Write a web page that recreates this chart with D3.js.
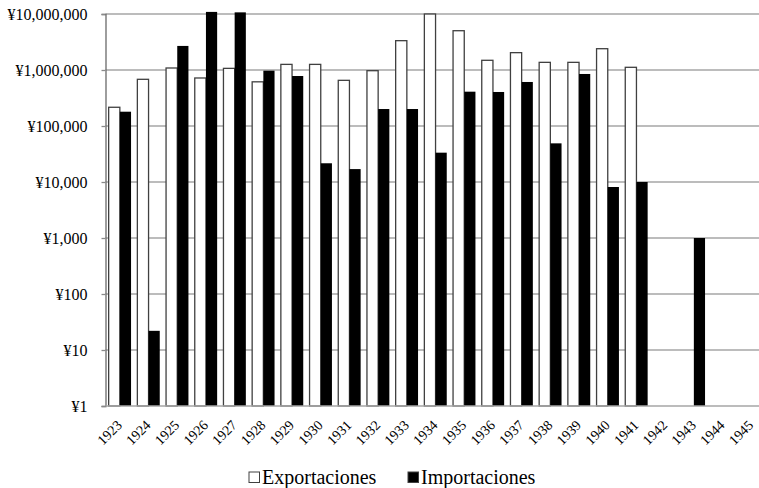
<!DOCTYPE html>
<html>
<head>
<meta charset="utf-8">
<script src="https://cdn.jsdelivr.net/npm/d3@7"></script>
<style>
  html, body { margin: 0; padding: 0; background: #fff; }
  svg { display: block; }
</style>
</head>
<body>
<svg id="chart" width="759" height="488"></svg>
<script>
const years = ["1923","1924","1925","1926","1927","1928","1929","1930","1931","1932","1933","1934","1935","1936","1937","1938","1939","1940","1941","1942","1943","1944","1945"];
const exportaciones = [216000, 682000, 1086000, 720000, 1070000, 615000, 1260000, 1260000, 654000, 972000, 3340000, 10000000, 5030000, 1490000, 2040000, 1370000, 1370000, 2400000, 1117000, null, null, null, null];
const importaciones = [180000, 22, 2690000, 10900000, 10700000, 972000, 781000, 21600, 17000, 201000, 201000, 33400, 410000, 405000, 611000, 49000, 849000, 8140, 10000, null, 1000, null, null];
const yTicks = [1, 10, 100, 1000, 10000, 100000, 1000000, 10000000];
const seriesNames = ["Exportaciones", "Importaciones"];

const FONT = "Liberation Serif";
const svg = d3.select("#chart").style("font-family", FONT);
const pLeft = 105.5, pRight = 765.6, pTop = 14, pBottom = 406;

const x = d3.scaleBand().domain(years).range([pLeft, pRight]).paddingInner(0.22).paddingOuter(0.11);
const xs = d3.scaleBand().domain(seriesNames).range([0, x.bandwidth()]);
const y = d3.scaleLog().domain([1, 1e7]).range([pBottom, pTop]);

const fmt = v => "¥" + d3.format(",")(v);

// gridlines
svg.append("g").selectAll("line").data(yTicks.slice(1)).join("line")
  .attr("x1", pLeft).attr("x2", 759)
  .attr("y1", d => y(d)).attr("y2", d => y(d))
  .attr("stroke", "#a6a6a6").attr("stroke-width", 1.3);

// y axis
const yAxis = d3.axisLeft(y).tickValues(yTicks).tickFormat(fmt).tickSize(4).tickPadding(14);
const gy = svg.append("g").attr("transform", `translate(${pLeft},0)`).call(yAxis);
gy.attr("font-family", null).attr("font-size", null);
gy.select(".domain").attr("stroke", "#6a6a6a").attr("stroke-width", 1.3);
gy.selectAll(".tick line").attr("stroke", "#8a8a8a").attr("stroke-width", 1.3);
gy.selectAll(".tick text").style("font-family", FONT).style("font-size", "16px").attr("fill", "#000");

// bars
const data = years.map((yr, i) => ({yr, vals: [exportaciones[i], importaciones[i]]}));
const groups = svg.append("g").selectAll("g").data(data).join("g")
  .attr("transform", d => `translate(${x(d.yr)},0)`);
groups.selectAll("rect").data(d => d.vals.map((v, j) => ({v, s: seriesNames[j]})).filter(e => e.v != null))
  .join("rect")
  .attr("x", d => xs(d.s))
  .attr("width", xs.bandwidth())
  .attr("y", d => y(d.v))
  .attr("height", d => pBottom - y(d.v))
  .attr("fill", d => d.s === "Exportaciones" ? "#fff" : "#000")
  .attr("stroke", d => d.s === "Exportaciones" ? "#404040" : "none")
  .attr("stroke-width", 1.3);

// x axis baseline
svg.append("line").attr("x1", pLeft).attr("x2", 759).attr("y1", pBottom).attr("y2", pBottom)
  .attr("stroke", "#a6a6a6").attr("stroke-width", 1.3);

// x labels
svg.append("g").selectAll("text").data(years).join("text")
  .attr("transform", d => `translate(${x(d) + x.bandwidth()/2 + 3},${pBottom + 20}) rotate(-45)`)
  .attr("text-anchor", "end")
  .style("font-family", FONT)
  .style("font-size", "14px")
  .attr("fill", "#000")
  .text(d => d);

// legend
const legend = svg.append("g");
const items = [{name: seriesNames[0], x: 249, fill: "#fff"}, {name: seriesNames[1], x: 408, fill: "#000"}];
items.forEach(it => {
  legend.append("rect").attr("x", it.x).attr("y", 472).attr("width", 10.5).attr("height", 10.5)
    .attr("fill", it.fill).attr("stroke", "#404040").attr("stroke-width", 1);
  legend.append("text").attr("x", it.x + 13).attr("y", 484)
    .style("font-family", FONT).style("font-size", "20px").attr("fill", "#000").text(it.name);
});
</script>
</body>
</html>
